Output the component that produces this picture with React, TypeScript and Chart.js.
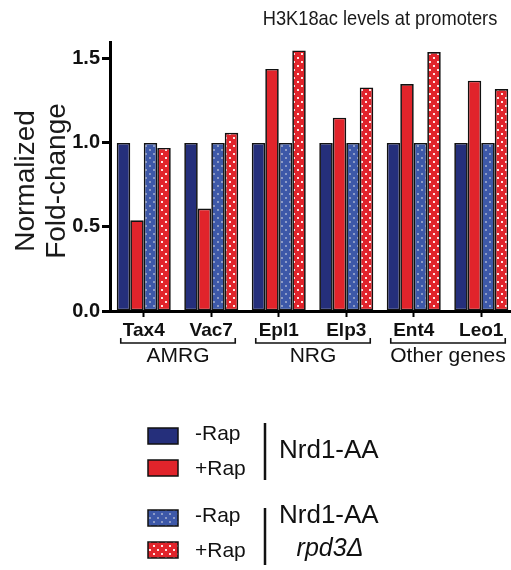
import React, { useEffect, useRef } from "react";
import { Chart, registerables } from "chart.js";

Chart.register(...registerables);

// Genes on the x axis
const genes = ["Tax4", "Vac7", "Epl1", "Elp3", "Ent4", "Leo1"];

// Normalized fold-change per strain / treatment
const nrd1MinusRap = [1.0, 1.0, 1.0, 1.0, 1.0, 1.0];
const nrd1PlusRap = [0.54, 0.61, 1.44, 1.15, 1.35, 1.37];
const rpd3MinusRap = [1.0, 1.0, 1.0, 1.0, 1.0, 1.0];
const rpd3PlusRap = [0.97, 1.06, 1.55, 1.33, 1.54, 1.32];

// Y axis tick values
const yTicks = [0, 0.5, 1.0, 1.5];
const yMax = 1.6;

// Gene groups drawn beneath the x axis
const groupNames = ["AMRG", "NRG", "Other genes"];
const groupFirst = [0, 2, 4];
const groupLast = [1, 3, 5];

const titleText = "H3K18ac levels at promoters";
const yTitleLines = ["Normalized", "Fold-change"];

const NAVY = "#252f7b";
const RED = "#e1242b";
const BLUE = "#3d58a8";
const FONT = "'Liberation Sans', Arial, Helvetica, sans-serif";

function dotPattern(base: string, dot: string): CanvasPattern | string {
  const c = document.createElement("canvas");
  c.width = 8;
  c.height = 8;
  const g = c.getContext("2d");
  if (!g) return base;
  g.fillStyle = base;
  g.fillRect(0, 0, 8, 8);
  g.fillStyle = dot;
  g.fillRect(1, 1, 2, 2);
  g.fillRect(5, 5, 2, 2);
  const p = g.createPattern(c, "repeat");
  return p || base;
}

const decorPlugin = {
  id: "decor",
  afterDraw(chart: any) {
    const ctx: CanvasRenderingContext2D = chart.ctx;
    const x = chart.scales.x;
    const area = chart.chartArea;
    ctx.save();

    // Title (slightly condensed face)
    ctx.fillStyle = "#1a1a1a";
    ctx.textAlign = "center";
    ctx.textBaseline = "middle";
    ctx.save();
    ctx.translate(380, 19);
    ctx.scale(0.87, 1);
    ctx.font = `21px ${FONT}`;
    ctx.fillText(titleText, 0, 0);
    ctx.restore();

    // Y axis title (two rotated lines)
    ctx.save();
    ctx.translate(0, 181);
    ctx.rotate(-Math.PI / 2);
    ctx.font = `28px ${FONT}`;
    ctx.fillText(yTitleLines[0], 0, 26);
    ctx.fillText(yTitleLines[1], 0, 57);
    ctx.restore();

    // Group brackets and names
    const band = (area.right - area.left) / genes.length;
    ctx.strokeStyle = "#111";
    ctx.lineWidth = 1.6;
    ctx.font = `21px ${FONT}`;
    ctx.fillStyle = "#111";
    groupNames.forEach((name, i) => {
      const x0 = x.getPixelForValue(groupFirst[i]) - band * 0.4 + 4;
      const x1 = x.getPixelForValue(groupLast[i]) + band * 0.4 - 3;
      const yb = 343;
      ctx.beginPath();
      ctx.moveTo(x0, yb - 5);
      ctx.lineTo(x0, yb);
      ctx.lineTo(x1, yb);
      ctx.lineTo(x1, yb - 5);
      ctx.stroke();
      ctx.fillText(name, (x0 + x1) / 2, 356);
    });

    // Legend
    const swatches = [NAVY, RED, chart.data.datasets[2].backgroundColor, chart.data.datasets[3].backgroundColor];
    const boxY = [428, 460, 510, 542];
    const labels = ["-Rap", "+Rap", "-Rap", "+Rap"];
    ctx.textAlign = "left";
    ctx.font = `21px ${FONT}`;
    swatches.forEach((fill, i) => {
      ctx.fillStyle = fill;
      ctx.fillRect(148, boxY[i], 30, 16);
      ctx.strokeStyle = "#111";
      ctx.lineWidth = 1.5;
      ctx.strokeRect(148, boxY[i], 30, 16);
      ctx.fillStyle = "#111";
      ctx.fillText(labels[i], 195, boxY[i] + 6 + (i % 2 === 1 ? 3 : 0));
    });
    ctx.lineWidth = 2.5;
    ctx.beginPath();
    ctx.moveTo(265, 423);
    ctx.lineTo(265, 480);
    ctx.moveTo(265, 508);
    ctx.lineTo(265, 565);
    ctx.stroke();
    ctx.font = `26px ${FONT}`;
    ctx.fillText("Nrd1-AA", 279, 451);
    ctx.fillText("Nrd1-AA", 279, 516);
    ctx.textAlign = "center";
    ctx.font = `italic 25px ${FONT}`;
    ctx.fillText("rpd3\u0394", 330, 549);

    ctx.restore();
  },
};

export default function App() {
  const ref = useRef<HTMLCanvasElement | null>(null);

  useEffect(() => {
    if (!ref.current) return;
    const blueDots = dotPattern(BLUE, "#8d9bc6");
    const redDots = dotPattern(RED, "#ffe4e4");
    const common = { borderColor: "#111", borderWidth: 1.7, borderSkipped: false as const, barPercentage: 1.0, categoryPercentage: 0.8 };
    const chart = new Chart(ref.current, {
      type: "bar",
      data: {
        labels: genes,
        datasets: [
          { label: "Nrd1-AA -Rap", data: nrd1MinusRap, backgroundColor: NAVY, ...common },
          { label: "Nrd1-AA +Rap", data: nrd1PlusRap, backgroundColor: RED, ...common },
          { label: "Nrd1-AA rpd3\u0394 -Rap", data: rpd3MinusRap, backgroundColor: blueDots as any, ...common },
          { label: "Nrd1-AA rpd3\u0394 +Rap", data: rpd3PlusRap, backgroundColor: redDots as any, ...common },
        ],
      },
      options: {
        responsive: false,
        animation: false,
        layout: { padding: { left: 0, right: 15, top: 42, bottom: 0 } },
        plugins: { legend: { display: false }, tooltip: { enabled: false }, title: { display: false } },
        scales: {
          x: {
            offset: true,
            border: { color: "#000", width: 3 },
            grid: { display: true, drawOnChartArea: false, offset: false, tickLength: 6, tickWidth: 2, tickColor: "#000" },
            ticks: { color: "#111", font: { family: FONT, size: 19, weight: "bold" }, padding: 2, maxRotation: 0 },
            afterFit: (s: any) => {
              s.height = 570 - 311;
            },
          },
          y: {
            min: 0,
            max: yMax,
            border: { color: "#000", width: 3 },
            grid: { display: true, drawOnChartArea: false, tickLength: 8, tickWidth: 3, tickColor: "#000" },
            afterBuildTicks: (s: any) => {
              s.ticks = yTicks.map((v) => ({ value: v }));
            },
            ticks: {
              color: "#111",
              font: { family: FONT, size: 20, weight: "bold" },
              padding: 2,
              callback: (v: any) => Number(v).toFixed(1),
            },
            afterFit: (s: any) => {
              s.width = 110;
            },
          },
        },
      },
      plugins: [decorPlugin],
    });
    return () => chart.destroy();
  }, []);

  return (
    <div style={{ position: "fixed", left: 0, top: 0, width: 511, height: 570, overflow: "hidden", background: "#fff" }}>
      <canvas ref={ref} width={530} height={570} style={{ display: "block", width: 530, height: 570 }} />
    </div>
  );
}
